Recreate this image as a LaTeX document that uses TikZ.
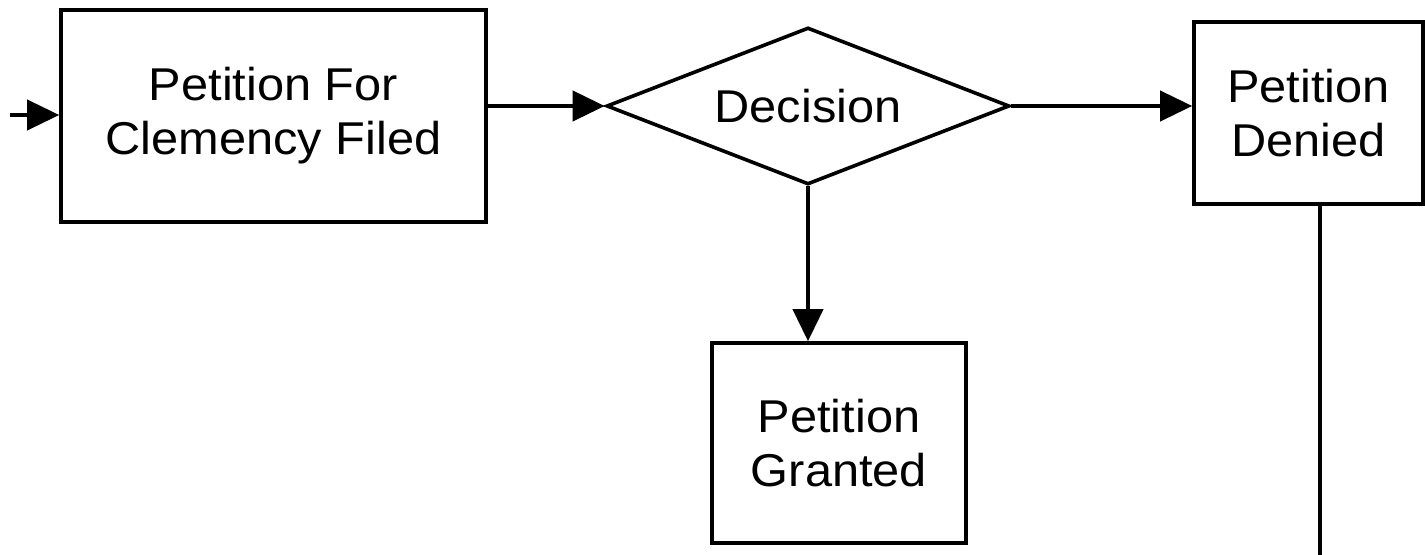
\documentclass[tikz,border=0pt]{standalone}
\usepackage{fontspec}
\setmainfont{Liberation Sans}[FakeStretch=1.06]
\usetikzlibrary{shapes.geometric,arrows.meta}
\begin{document}
\begin{tikzpicture}[x=0.5pt,y=-0.5pt,
  every node/.style={font=\fontsize{23}{27}\selectfont, align=center},
  boxnode/.style={draw, line width=1.8pt, inner sep=0pt},
  decnode/.style={draw, diamond, aspect=2.57, line width=1.8pt, inner sep=0pt, minimum width=201.5pt, minimum height=78.5pt},
  flow/.style={line width=2pt, -{Triangle[length=16pt,width=15pt]}},
  plain/.style={line width=2.2pt}]
\useasboundingbox (0,0) rectangle (1425,555);
\node[boxnode, minimum width=212.5pt, minimum height=106pt] (filed) at (273.5,116) {Petition For\\Clemency Filed};
\node[decnode] (dec) at (808,106) {Decision};
\node[boxnode, minimum width=114.5pt, minimum height=91pt] (denied) at (1308.5,113) {Petition\\Denied};
\node[boxnode, minimum width=127pt, minimum height=100pt] (granted) at (839,443) {Petition\\Granted};
\coordinate (start) at (10,115);
\coordinate (dend) at (1320,555);
\draw[flow] (start) -- (start -| filed.west);
\draw[flow] (filed.east |- dec.west) -- (dec.west);
\draw[flow] (dec.east) -- (dec.east -| denied.west);
\draw[flow] (dec.south) -- (dec.south |- granted.north);
\draw[plain] (denied.south -| dend) -- (dend);
\end{tikzpicture}
\end{document}
